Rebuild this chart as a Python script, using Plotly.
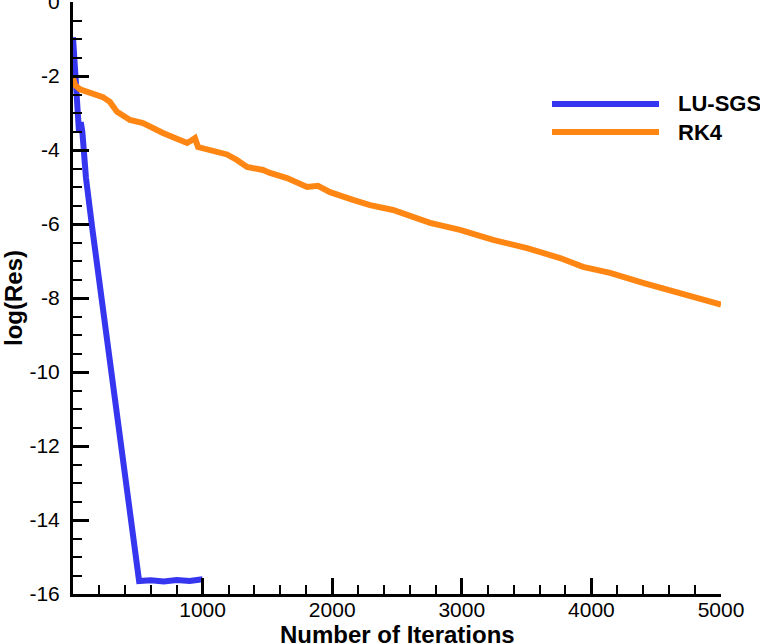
import plotly.graph_objects as go

# ---- data ----
series_names = ["LU-SGS", "RK4"]

lu_x = [0, 8, 16, 24, 32, 40, 46, 52, 60, 72, 85, 100, 150, 200, 250, 300, 350, 400, 450, 480, 495, 510,
        600, 700, 800, 900, 1000]
lu_y = [-0.95, -1.5, -1.95, -2.35, -2.8, -3.2, -3.5, -3.4, -3.25, -3.5, -4.1, -4.75, -6.15, -7.5, -8.85,
        -10.25, -11.6, -12.95, -14.3, -15.1, -15.55, -15.65, -15.63, -15.66, -15.62, -15.65, -15.6]

rk_x = [0, 15, 54, 131, 231, 285, 340, 440, 540, 694, 826, 880, 910, 941, 965, 1057, 1188, 1265, 1343,
        1466, 1520, 1651, 1806, 1890, 1983, 2160, 2292, 2469, 2630, 2755, 2986, 3241, 3503, 3758, 3935,
        4144, 4398, 4660, 5000]
rk_y = [-2.05, -2.24, -2.36, -2.46, -2.57, -2.70, -2.97, -3.19, -3.27, -3.54, -3.73, -3.81, -3.75, -3.68,
        -3.92, -4.0, -4.12, -4.27, -4.46, -4.54, -4.62, -4.76, -5.0, -4.97, -5.14, -5.35, -5.49, -5.62,
        -5.80, -5.97, -6.16, -6.43, -6.65, -6.92, -7.16, -7.32, -7.59, -7.84, -8.18]

x_ticks = [1000, 2000, 3000, 4000, 5000]
y_ticks = [-16, -14, -12, -10, -8, -6, -4, -2, 0]
y_ticktext = ["-16", "-14", "-12", "-10", "-8", "-6", "-4", "-2", "0"]
x_minor = [v for v in range(200, 5000, 200) if v % 1000 != 0]
y_minor = [v / 2 for v in range(-31, 0) if v % 4 != 0]

x_title = "Number of Iterations"
y_title = "log(Res)"

colors = ["#3636f0", "#ff8612"]
FONT = "Liberation Sans, Arial, sans-serif"

fig = go.Figure()
fig.add_trace(go.Scatter(x=lu_x, y=lu_y, mode="lines", name=series_names[0],
                         line=dict(color=colors[0], width=6), showlegend=False))
fig.add_trace(go.Scatter(x=rk_x, y=rk_y, mode="lines", name=series_names[1],
                         line=dict(color=colors[1], width=6), showlegend=False))

# manual legend (long sample lines as in the reference)
L, R, T, B = 73, 39, 2, 50
pw, ph = 760 - L - R, 644 - T - B
def px2paper(px, py):
    return (px - L) / pw, (644 - B - py) / ph

for i, (name, py) in enumerate(zip(series_names, [104, 132])):
    x0, y0 = px2paper(552, py)
    x1, _ = px2paper(659, py)
    fig.add_shape(type="line", xref="paper", yref="paper", x0=x0, x1=x1, y0=y0, y1=y0,
                  line=dict(color=colors[i], width=6))
    tx, _ = px2paper(676, py)
    fig.add_annotation(xref="paper", yref="paper", x=tx, y=y0, text="<b>%s</b>" % name,
                       showarrow=False, xanchor="left", yanchor="middle",
                       font=dict(family=FONT, size=22, color="black"))

# x-axis title placed precisely (partly cut by the bottom edge as in the reference)
_, ty = px2paper(0, 634)
fig.add_annotation(xref="paper", yref="paper", x=0.5, y=ty, text="<b>%s</b>" % x_title,
                   showarrow=False, xanchor="center", yanchor="middle",
                   font=dict(family=FONT, size=24, color="black"))

axis_common = dict(showline=True, linewidth=3, linecolor="black", showgrid=False, zeroline=False,
                   ticks="inside", ticklen=16, tickwidth=3, tickcolor="black",
                   tickfont=dict(family=FONT, size=21, color="black"), mirror=False)

fig.update_xaxes(range=[0, 5000], tickmode="array", tickvals=x_ticks,
                 ticktext=[str(v) for v in x_ticks], ticklabelstandoff=-5,
                 minor=dict(tickmode="array", tickvals=x_minor, ticks="inside", ticklen=9,
                            tickwidth=1.5, tickcolor="black"),
                 **axis_common)
fig.update_yaxes(range=[-16, 0.0001], tickmode="array", tickvals=y_ticks, ticktext=y_ticktext,
                 ticklabelstandoff=6, ticklabeloverflow="allow",
                 minor=dict(tickmode="array", tickvals=y_minor, ticks="inside", ticklen=9,
                            tickwidth=1.5, tickcolor="black"),
                 title=dict(text="<b>%s</b>" % y_title, standoff=8,
                            font=dict(family=FONT, size=24, color="black")),
                 **axis_common)

fig.update_layout(width=760, height=644, margin=dict(l=L, r=R, t=T, b=B, autoexpand=False),
                  plot_bgcolor="white", paper_bgcolor="white",
                  font=dict(family=FONT, color="black"))

fig.write_html("out.html")
